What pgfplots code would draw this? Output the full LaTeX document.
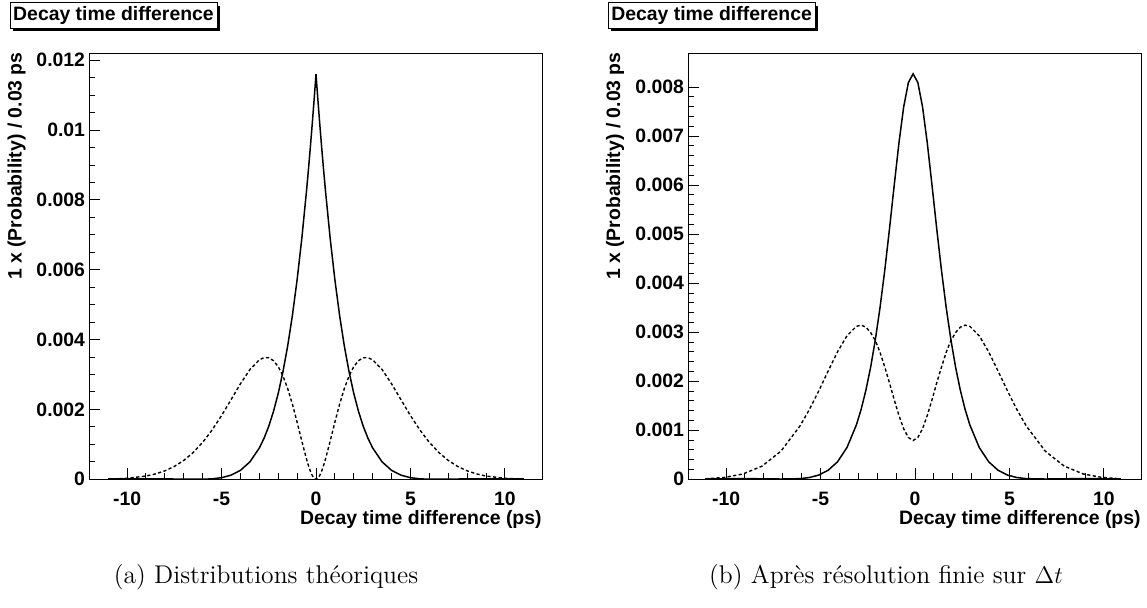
\documentclass[border=0pt]{standalone}
\usepackage{fontspec}
\usepackage{pgfplots}
\pgfplotsset{compat=1.18}
\newfontfamily\rootfont{Liberation Sans}
\newcommand\rf{\rootfont\bfseries\fontsize{9.7}{11}\selectfont}

\pgfplotsset{
  rootaxis/.style={
    scale only axis, width=226.7pt, height=213pt,
    xmin=-12, xmax=12,
    xtick={-10,-5,0,5,10}, xticklabels={-10,-5,0,5,10},
    minor x tick num=4,
    xtick pos=left, ytick pos=left,
    tick align=inside,
    major tick length=5.5pt, minor tick length=3pt,
    tick style={black, line width=0.5pt},
    axis line style={black, line width=0.6pt},
    ticklabel style={font=\rf},
    xticklabel style={yshift=-3pt},
    yticklabel style={xshift=1.4pt},
    scaled y ticks=false,
    clip=true,
  },
  solidc/.style={black, line width=0.75pt},
  dashc/.style={black, line width=0.7pt, dash pattern=on 1.6pt off 1.2pt},
}

\begin{document}
\begin{tikzpicture}
\path[use as bounding box] (0,0) rectangle (573.5pt,304pt);

% (a) theoretical distributions
\begin{axis}[rootaxis, at={(44.65pt,64.35pt)}, anchor=south west,
  ymin=0, ymax=0.0122,
  ytick={0,0.002,0.004,0.006,0.008,0.01,0.012},
  yticklabels={0,0.002,0.004,0.006,0.008,0.01,0.012},
  minor y tick num=3]
\addplot[solidc] coordinates {
 (-11,0.0000082) (-10,0.0000117) (-9,0.0000138) (-8,0.0000115) (-7,0.0000040)
 (-6,0.0000012) (-5.5,0.0000126) (-5,0.0000458) (-4.5,0.000118) (-4,0.000256)
 (-3.5,0.000498) (-3,0.000896) (-2.75,0.001175) (-2.5,0.001520) (-2.25,0.001944)
 (-2,0.002458) (-1.75,0.003078) (-1.5,0.003816) (-1.25,0.004689) (-1,0.005712)
 (-0.75,0.006902) (-0.5,0.008271) (-0.4,0.008872) (-0.3,0.009505) (-0.2,0.010170)
 (-0.1,0.010868) (0,0.011600)
 (0.1,0.010868) (0.2,0.010170) (0.3,0.009505) (0.4,0.008872) (0.5,0.008271)
 (0.75,0.006902) (1,0.005712) (1.25,0.004689) (1.5,0.003816) (1.75,0.003078)
 (2,0.002458) (2.25,0.001944) (2.5,0.001520) (2.75,0.001175) (3,0.000896)
 (3.5,0.000498) (4,0.000256) (4.5,0.000118) (5,0.0000458) (5.5,0.0000126)
 (6,0.0000012) (7,0.0000040) (8,0.0000115) (9,0.0000138) (10,0.0000117) (11,0.0000082)
};
\addplot[dashc] coordinates {
 (-11,0.0000061) (-10,0.0000288) (-9,0.0000928) (-8.5,0.0001532) (-8,0.000242)
 (-7.5,0.000367) (-7,0.000540) (-6.5,0.000767) (-6,0.001057) (-5.5,0.001411)
 (-5,0.001824) (-4.5,0.002277) (-4,0.002734) (-3.5,0.003142) (-3,0.003420)
 (-2.75,0.003484) (-2.5,0.003480) (-2.25,0.003397) (-2,0.003226) (-1.75,0.002960)
 (-1.5,0.002600) (-1.25,0.002152) (-1,0.001638) (-0.75,0.001092) (-0.5,0.000574)
 (-0.4,0.000393) (-0.3,0.000236) (-0.2,0.000112) (-0.1,0.0000299) (0,0)
 (0.1,0.0000299) (0.2,0.000112) (0.3,0.000236) (0.4,0.000393) (0.5,0.000574)
 (0.75,0.001092) (1,0.001638) (1.25,0.002152) (1.5,0.002600) (1.75,0.002960)
 (2,0.003226) (2.25,0.003397) (2.5,0.003480) (2.75,0.003484) (3,0.003420)
 (3.5,0.003142) (4,0.002734) (4.5,0.002277) (5,0.001824) (5.5,0.001411)
 (6,0.001057) (6.5,0.000767) (7,0.000540) (7.5,0.000367) (8,0.000242)
 (8.5,0.0001532) (9,0.0000928) (10,0.0000288) (11,0.0000061)
};
\end{axis}

% (b) after finite resolution
\begin{axis}[rootaxis, at={(344.15pt,64.35pt)}, anchor=south west,
  ymin=0, ymax=0.00869,
  ytick={0,0.001,0.002,0.003,0.004,0.005,0.006,0.007,0.008},
  yticklabels={0,0.001,0.002,0.003,0.004,0.005,0.006,0.007,0.008},
  minor y tick num=4]
\addplot[solidc] coordinates {
 (-11.1,0.0000083) (-10.1,0.0000114) (-9.1,0.0000128) (-8.1,0.0000104) (-7.1,0.0000054)
 (-6.1,0.0000127) (-5.6,0.0000351) (-5.1,0.0000853) (-4.6,0.000183) (-4.1,0.000357)
 (-3.6,0.000649) (-3.1,0.001112) (-2.85,0.001429) (-2.6,0.001816) (-2.35,0.002283)
 (-2.1,0.002846) (-1.85,0.003507) (-1.6,0.004266) (-1.35,0.005110) (-1.1,0.006000)
 (-0.85,0.006861) (-0.6,0.007595) (-0.35,0.008094) (-0.1,0.008271)
 (0.15,0.008094) (0.4,0.007595) (0.65,0.006861) (0.9,0.006000) (1.15,0.005110)
 (1.4,0.004266) (1.65,0.003507) (1.9,0.002846) (2.15,0.002283) (2.4,0.001816)
 (2.65,0.001429) (2.9,0.001112) (3.4,0.000649) (3.9,0.000357) (4.4,0.000183)
 (4.9,0.0000853) (5.4,0.0000351) (5.9,0.0000127) (6.9,0.0000054) (7.9,0.0000104)
 (8.9,0.0000128) (9.9,0.0000114) (10.9,0.0000083)
};
\addplot[dashc] coordinates {
 (-11.1,0.0000099) (-10.1,0.0000373) (-9.1,0.0001092) (-8.1,0.000268) (-7.1,0.000572)
 (-6.1,0.001081) (-5.6,0.001417) (-5.1,0.001799) (-4.6,0.002206) (-4.1,0.002601)
 (-3.6,0.002928) (-3.1,0.003121) (-2.85,0.003144) (-2.6,0.003104) (-2.35,0.002994)
 (-2.1,0.002830) (-1.85,0.002589) (-1.6,0.002288) (-1.35,0.001966) (-1.1,0.001622)
 (-0.85,0.001302) (-0.6,0.001032) (-0.35,0.000853) (-0.1,0.000790)
 (0.15,0.000853) (0.4,0.001032) (0.65,0.001302) (0.9,0.001622) (1.15,0.001966)
 (1.4,0.002288) (1.65,0.002589) (1.9,0.002830) (2.15,0.002994) (2.4,0.003104)
 (2.65,0.003144) (2.9,0.003121) (3.4,0.002928) (3.9,0.002601) (4.4,0.002206)
 (4.9,0.001799) (5.4,0.001417) (5.9,0.001081) (6.9,0.000572) (7.9,0.000268)
 (8.9,0.0001092) (9.9,0.0000373) (10.9,0.0000099)
};
\end{axis}

% title boxes with shadow
\fill (6.5pt,288.35pt) rectangle (110pt,301.15pt);
\draw[fill=white, line width=0.5pt] (5pt,289.85pt) rectangle (108.5pt,302.65pt);
\node[font=\rf, inner sep=0pt] at (56.75pt,296.25pt) {Decay time difference};
\fill (305.65pt,288.35pt) rectangle (409pt,301.15pt);
\draw[fill=white, line width=0.5pt] (304.15pt,289.85pt) rectangle (407.5pt,302.65pt);
\node[font=\rf, inner sep=0pt] at (355.8pt,296.25pt) {Decay time difference};

% axis titles
\node[font=\rf, rotate=90, anchor=base east, inner sep=0pt] at (10.75pt,278pt) {1 x (Probability) / 0.03 ps};
\node[font=\rf, rotate=90, anchor=base east, inner sep=0pt] at (310pt,278pt) {1 x (Probability) / 0.03 ps};
\node[font=\rf, anchor=base east, inner sep=0pt] at (271pt,41.5pt) {Decay time difference (ps)};
\node[font=\rf, anchor=base east, inner sep=0pt] at (570.5pt,41.5pt) {Decay time difference (ps)};

% subfigure captions
\node[anchor=base, inner sep=0pt, font=\fontsize{12.8}{15}\selectfont] at (133pt,12pt) {(a) Distributions théoriques};
\node[anchor=base, inner sep=0pt, font=\fontsize{12.8}{15}\selectfont] at (443pt,12pt) {(b) Après résolution finie sur $\Delta t$};
\end{tikzpicture}
\end{document}
